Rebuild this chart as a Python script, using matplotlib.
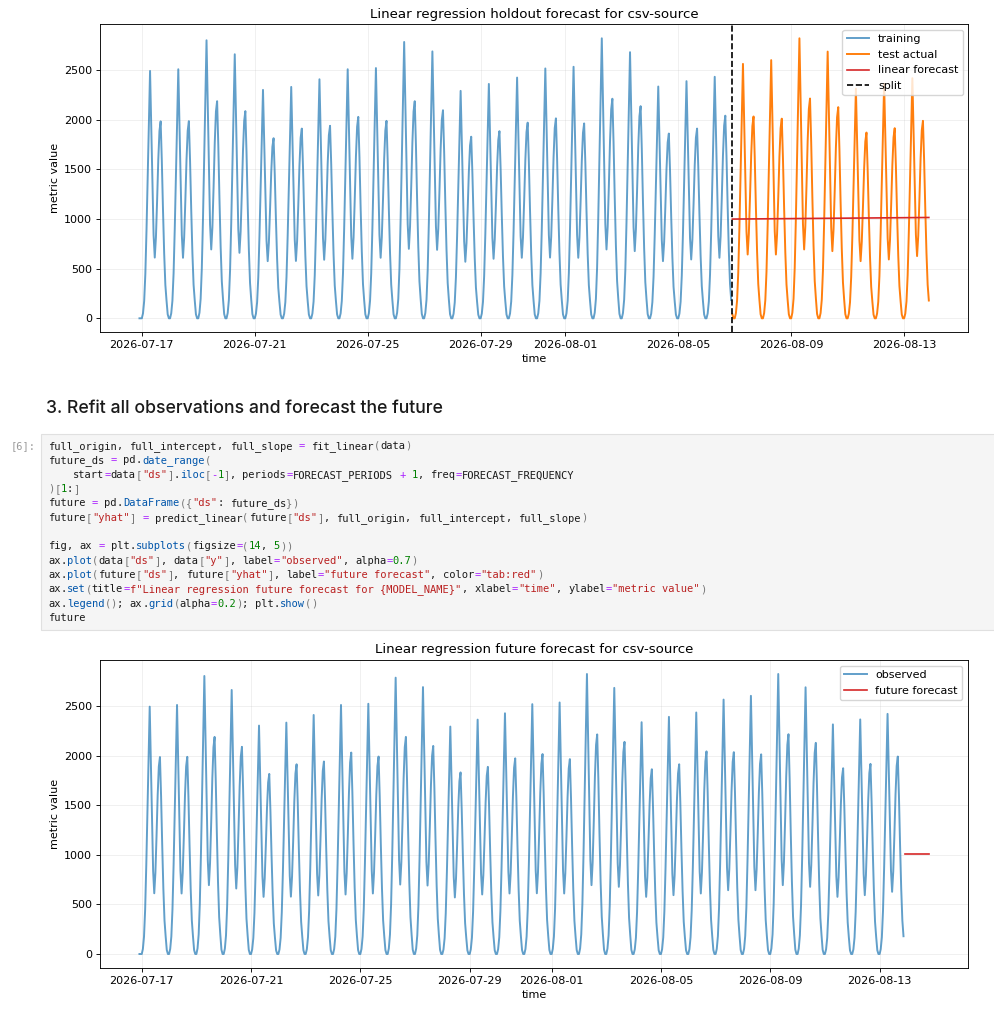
"""Notebook excerpt: holdout and future linear forecasts for csv-source, with the code cell between."""
import re

import matplotlib

matplotlib.use("Agg")
import matplotlib.dates as mdates
import matplotlib.pyplot as plt
from matplotlib.patches import Rectangle
import pandas as pd

MODEL_NAME = "csv-source"

# hourly series, first/last timestamp and the holdout split
START = "2026-07-16 22:00"
END = "2026-08-13 21:00"
SPLIT = "2026-08-06 22:00"

# one entry per calendar day 07-16 .. 08-13 (07-16 only shows its night hours)
DAYS = pd.date_range("2026-07-16", "2026-08-13", freq="D")
PEAK_AM = [0, 2493, 2510, 2802, 2661, 2302, 2332, 2409, 2510, 2522, 2785, 2690, 2292,
           2362, 2426, 2518, 2535, 2822, 2682, 2336, 2390, 2434, 2564, 2602, 2822,
           2688, 2314, 2364, 2420]
DIP = [0, 612, 610, 694, 660, 576, 578, 590, 600, 610, 700, 690, 570, 600, 610, 612,
       610, 694, 677, 576, 593, 610, 643, 643, 694, 677, 576, 593, 627]
PEAK_PM = [0, 1985, 1987, 2188, 2088, 1815, 1912, 1940, 2030, 1990, 2188, 2097, 1830,
           1886, 1972, 2015, 1964, 2213, 2138, 1862, 1912, 2042, 2034, 2012, 2215,
           2128, 1872, 1916, 1990]

RISE = [0.0, 0.02, 0.07, 0.18, 0.36, 0.58, 0.82]        # 00h-06h, share of morning peak
FALL_TO_DIP = [0.70, 0.38, 0.12]                        # 08h-10h, dip -> morning peak
RISE_TO_PM = [0.15, 0.42, 0.72, 0.93]                   # 12h-15h, dip -> afternoon peak
EVENING = [0.80, 0.55, 0.33, 0.17, 0.09, 0.02, 0.0]     # 17h-23h, share of afternoon peak

# linear model output
HOLDOUT_FORECAST = [1000, 1016]            # at first and last test timestamp
FUTURE_START = "2026-08-13 22:00"
FUTURE_END = "2026-08-14 19:00"
FUTURE_FORECAST = [1005, 1005]

CODE = '''full_origin, full_intercept, full_slope = fit_linear(data)
future_ds = pd.date_range(
    start=data["ds"].iloc[-1], periods=FORECAST_PERIODS + 1, freq=FORECAST_FREQUENCY
)[1:]
future = pd.DataFrame({"ds": future_ds})
future["yhat"] = predict_linear(future["ds"], full_origin, full_intercept, full_slope)

fig, ax = plt.subplots(figsize=(14, 5))
ax.plot(data["ds"], data["y"], label="observed", alpha=0.7)
ax.plot(future["ds"], future["yhat"], label="future forecast", color="tab:red")
ax.set(title=f"Linear regression future forecast for {MODEL_NAME}", xlabel="time", ylabel="metric value")
ax.legend(); ax.grid(alpha=0.2); plt.show()
future'''

W, H = 994, 1018
LW = 1.4


def day_values(p1, dip, p2):
    return ([f * p1 for f in RISE] + [p1]
            + [dip + f * (p1 - dip) for f in FALL_TO_DIP] + [dip]
            + [dip + f * (p2 - dip) for f in RISE_TO_PM] + [p2]
            + [f * p2 for f in EVENING])


def build_series():
    vals = []
    for p1, dip, p2 in zip(PEAK_AM, DIP, PEAK_PM):
        vals.extend(day_values(p1, dip, p2))
    idx = pd.date_range(DAYS[0], periods=len(vals), freq="h")
    s = pd.Series(vals, index=idx)
    return s.loc[START:END]


def style_axes(ax, title):
    ax.set_title(title, fontsize=9.6, pad=4.8)
    ax.set_xlabel("time", fontsize=8, labelpad=3)
    ax.set_ylabel("metric value", fontsize=8, labelpad=3)
    ax.tick_params(labelsize=8, length=2.8, width=0.64, pad=2.8)
    for sp in ax.spines.values():
        sp.set_linewidth(0.64)
    ax.xaxis.set_major_locator(mdates.DayLocator(bymonthday=range(1, 32, 4)))
    ax.xaxis.set_major_formatter(mdates.DateFormatter("%Y-%m-%d"))
    ax.grid(alpha=0.2, linewidth=0.64)
    ax.legend(fontsize=8, loc="upper right")


def px_axes(fig, left, top, right, bottom):
    return fig.add_axes([left / W, 1 - bottom / H, (right - left) / W, (bottom - top) / H])


def draw_code(fig):
    x0, base0, step, cw = 48, 449, 14.33, 6.27
    mono = "DejaVu Sans Mono"
    fs = 7.5
    fig.patches.append(Rectangle((41 / W, 1 - 629.5 / H), 1.0, (629.5 - 433.5) / H,
                                 transform=fig.transFigure, facecolor="#f5f5f5",
                                 edgecolor="#e0e0e0", linewidth=0.8))
    fig.text(36 / W, 1 - base0 / H, "[6]:", ha="right", va="baseline",
             family=mono, fontsize=fs, color="#9a9a9a")
    token = re.compile(r'(f?"[^"]*")|(\d+\.?\d*)|([A-Za-z_]\w*)|(\s+)|(.)')
    for i, line in enumerate(CODE.split("\n")):
        y = 1 - (base0 + i * step) / H
        for m in token.finditer(line):
            text = m.group(0)
            if m.group(4):
                continue
            if m.group(1):
                color = "#ba2121"
            elif m.group(2):
                color = "#008000"
            elif m.group(3):
                color = "#0055aa" if m.start() > 0 and line[m.start() - 1] == "." else "#1a1a1a"
            elif text in "=+-":
                color = "#aa22ff"
            elif text in "()[]{}":
                color = "#777777"
            else:
                color = "#1a1a1a"
            fig.text((x0 + m.start() * cw) / W, y, text, ha="left", va="baseline",
                     family=mono, fontsize=fs, color=color)


def main():
    y = build_series()
    train = y.loc[:SPLIT].iloc[:-1]
    test = y.loc[SPLIT:]

    fig = plt.figure(figsize=(W / 100, H / 100), dpi=100)

    # holdout chart
    ax = px_axes(fig, 100, 24.3, 968.3, 332.3)
    ax.plot(train.index, train.values, label="training", alpha=0.7, linewidth=LW)
    ax.plot(test.index, test.values, label="test actual", linewidth=LW)
    ax.plot([test.index[0], test.index[-1]], HOLDOUT_FORECAST, label="linear forecast",
            color="tab:red", linewidth=1.2)
    ax.axvline(test.index[0], color="black", linestyle="--", label="split", linewidth=1.2)
    style_axes(ax, f"Linear regression holdout forecast for {MODEL_NAME}")

    # section heading + code cell
    fig.text(46 / W, 1 - 413.3 / H, "3. Refit all observations and forecast the future",
             family="Inter", fontsize=12.7, fontweight="medium", color="#1a1a1a",
             ha="left", va="baseline")
    draw_code(fig)

    # future chart
    ax2 = px_axes(fig, 100, 660, 968, 968)
    ax2.plot(y.index, y.values, label="observed", alpha=0.7, linewidth=LW)
    ax2.plot(pd.to_datetime([FUTURE_START, FUTURE_END]), FUTURE_FORECAST,
             label="future forecast", color="tab:red", linewidth=1.2)
    style_axes(ax2, f"Linear regression future forecast for {MODEL_NAME}")

    fig.savefig("out.png", dpi=100)
    plt.close(fig)


if __name__ == "__main__":
    main()
